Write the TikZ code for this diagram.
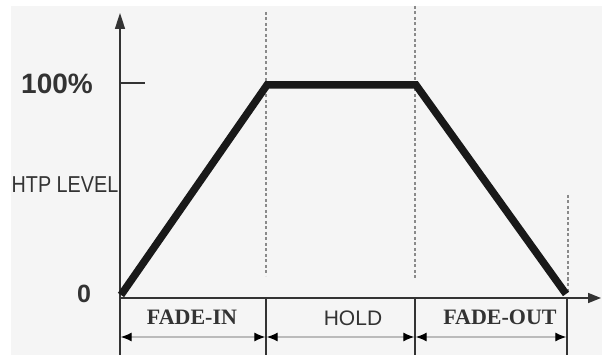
\documentclass[tikz,border=0pt]{standalone}
\usepackage{fontspec}
\usepackage{graphicx}
\setmainfont{Liberation Serif}
\setsansfont{Liberation Sans}
\usetikzlibrary{arrows.meta}
\definecolor{bg}{HTML}{F5F5F5}
\definecolor{axisc}{HTML}{333333}
\definecolor{dashc}{HTML}{8A8A8A}
\definecolor{dimc}{HTML}{BBBBBB}
\definecolor{txt}{HTML}{333333}
\begin{document}
\begin{tikzpicture}[x=1pt,y=-1pt,
  axisline/.style={draw=axisc, line width=1.6pt},
  curve/.style={draw=black!90, line width=7.5pt, line join=miter},
  guide/.style={draw=dashc, line width=1.2pt, dash pattern=on 3pt off 2.5pt},
  sepline/.style={draw=axisc, line width=1.4pt},
  dimline/.style={draw=dimc, line width=1.2pt, {Latex[length=11pt,width=9pt,black]}-{Latex[length=11pt,width=9pt,black]}},
  lbl/.style={inner sep=0pt, text=txt},
  serlbl/.style={lbl, font=\fontsize{22}{24}\selectfont\bfseries},
  sanslbl/.style={lbl, font=\sffamily\fontsize{21}{23}\selectfont}
]
\useasboundingbox (0,0) rectangle (602,355);
\fill[white] (0,0) rectangle (602,355);
\fill[bg] (11,6) rectangle (602,355);

% coordinates
\coordinate (O) at (120,298);
\coordinate (Ytop) at (120,13);
\coordinate (Xend) at (601,298);
\coordinate (Ybot) at (120,355);
\coordinate (P0) at (121,295);
\coordinate (P1) at (267,85);
\coordinate (P2) at (416,85);
\coordinate (P3) at (566,294);
\coordinate (T1) at (120,83);
\coordinate (T2) at (145,83);

% guides
\coordinate (G1a) at (266,12);  \coordinate (G1b) at (266,276);
\coordinate (G2a) at (415,6);   \coordinate (G2b) at (415,279);
\coordinate (G3a) at (568,195); \coordinate (G3b) at (568,292);
\draw[guide] (G1a) -- (G1b);
\draw[guide] (G2a) -- (G2b);
\draw[guide] (G3a) -- (G3b);

% separators below axis
\coordinate (S1a) at (266,298); \coordinate (S1b) at (266,355);
\coordinate (S2a) at (415,298); \coordinate (S2b) at (415,355);
\coordinate (S3a) at (567,298); \coordinate (S3b) at (567,355);
\draw[sepline] (O) -- (Ybot);
\draw[sepline] (S1a) -- (S1b);
\draw[sepline] (S2a) -- (S2b);
\draw[sepline] (S3a) -- (S3b);

% axes
\draw[axisline, -{Triangle[length=16pt,width=10pt]}] (O) -- (Ytop);
\draw[axisline, -{Triangle[length=13pt,width=10pt]}] (O) -- (Xend);
\draw[draw=axisc, line width=1.4pt] (T1) -- (T2);

% curve
\draw[curve] (P0) -- (P1) -- (P2) -- (P3);

% dimension arrows
\coordinate (D0) at (120.7,337);
\coordinate (D1l) at (265.3,337);
\coordinate (D1r) at (266.7,337);
\coordinate (D2l) at (414.3,337);
\coordinate (D2r) at (415.7,337);
\coordinate (D3) at (566.3,337);
\draw[dimline] (D0) -- (D1l);
\draw[dimline] (D1r) -- (D2l);
\draw[dimline] (D2r) -- (D3);

% labels
\node[lbl, font=\sffamily\bfseries\fontsize{28}{30}\selectfont, anchor=center] (l100) at (57,84) {100\%};
\node[lbl, font=\sffamily\bfseries\fontsize{25}{27}\selectfont, anchor=center] (l0) at (84,294) {0};
\node[lbl, font=\sffamily\fontsize{23}{25}\selectfont, anchor=center] (lhtp) at (65,185) {\scalebox{0.86}[1]{HTP LEVEL}};
\node[serlbl, anchor=center] (lfi) at (192,317) {FADE-IN};
\node[sanslbl, anchor=center] (lhold) at (353,318) {HOLD};
\node[serlbl, anchor=center] (lfo) at (500,317) {FADE-OUT};
\end{tikzpicture}
\end{document}
